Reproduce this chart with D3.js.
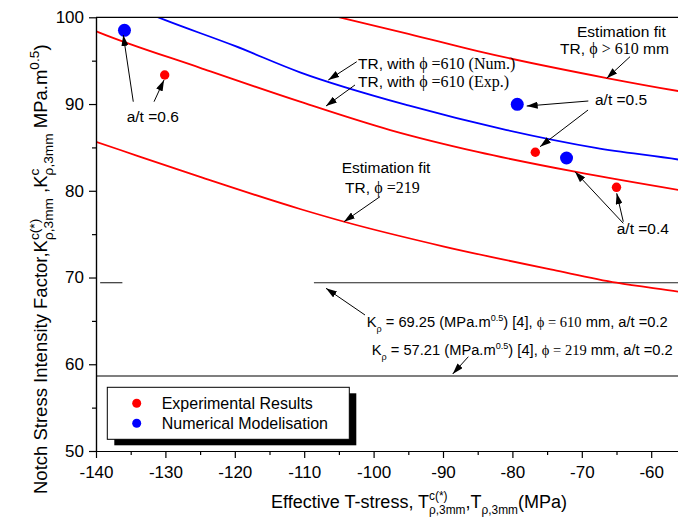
<!DOCTYPE html>
<html><head><meta charset="utf-8">
<script src="https://cdn.jsdelivr.net/npm/d3@7"></script>
<style>body{margin:0;background:#fff}svg{display:block}</style>
</head><body><svg id="c" width="678" height="521"></svg>
<script>
// ---------- data ----------
const xTickValues = [-140,-130,-120,-110,-100,-90,-80,-70,-60];
const xMinorTicks = [-135,-125,-115,-105,-95,-85,-75,-65,-55];
const yTickValues = [50,60,70,80,90,100];
const yMinorTicks = [55,65,75,85,95];

const expX = [-130.1, -76.7, -65.0];          // Experimental Results (red)
const expY = [93.35, 84.44, 80.4];
const numX = [-135.9, -79.3, -72.2];          // Numerical Modelisation (blue)
const numY = [98.5, 89.97, 83.78];

const fitBigX = [-107, -103.4, -95, -85, -66.4, -56.1, -50];   // TR, phi > 610 mm
const fitBigY = [100.4, 99.7, 98.1, 96.1, 93.0, 91.5, 90.7];
const numCurveX = [-132, -130.1, -120, -110.6, -95, -80.8, -68, -56.1, -50]; // TR phi=610 Num.
const numCurveY = [100.3, 99.7, 96.7, 93.66, 89.84, 87.0, 84.95, 83.6, 82.8];
const expCurveX = [-140, -139.6, -125, -110.6, -97.6, -85, -71.0, -56.1, -50]; // TR phi=610 Exp.
const expCurveY = [98.4, 98.27, 94.18, 90.27, 87.0, 84.48, 82.2, 80.1, 79.3];
const fit219X = [-140, -136.5, -125, -110.6, -104.1, -90, -74.1, -65.0, -56.1, -50]; // TR phi=219
const fit219Y = [85.65, 84.7, 81.6, 77.9, 76.4, 73.6, 70.87, 69.4, 68.37, 67.6];

const refLineY  = [69.4, 69.4, 58.64];
const refLineX0 = [-139.4, -108.6, -140];
const refLineX1 = [-136.2, -50, -50];

const legendLabels = ["Experimental Results", "Numerical Modelisation"];
const legendColors = ["#ff0000", "#0000ff"];

// ---------- setup ----------
const svg = d3.select("#c");
const SANS = "'Liberation Sans', Arial, Helvetica, sans-serif";
const SERIF = "'Liberation Serif', 'Times New Roman', serif";
const PHI = "\u03d5";
const x = d3.scaleLinear().domain([-140, -50]).range([96, 96 + 90 * 6.94]);
const y = d3.scaleLinear().domain([50, 100]).range([451, 17.3]);

svg.append("defs").append("clipPath").attr("id", "clip")
  .append("rect").attr("x", 96).attr("y", 17.3).attr("width", 700).attr("height", 451 - 17.3);
const marker = svg.select("defs").append("marker").attr("id", "arr")
  .attr("markerUnits", "userSpaceOnUse").attr("markerWidth", 11).attr("markerHeight", 7)
  .attr("refX", 11).attr("refY", 3.5).attr("orient", "auto");
marker.append("path").attr("d", "M0,0 L11,3.5 L0,7 Z").attr("fill", "#000");

// rich text helper
function rich(sel, parts, fs, ratio) {
  ratio = ratio || 0.62;
  let cur = 0, lastSupLen = 0;
  parts.forEach(p => {
    const k = p.k || "n";
    const size = k === "n" ? (p.fs || fs) : fs * ratio;
    const target = k === "sup" ? -fs * 0.42 : (k === "sub" ? fs * 0.34 : 0);
    const ts = sel.append("tspan").text(p.t)
      .attr("font-size", size)
      .attr("font-family", p.serif ? SERIF : SANS)
      .attr("dy", target - cur);
    if (k === "sub" && p.stack) ts.attr("dx", -lastSupLen);
    cur = target;
    if (k === "sup") lastSupLen = ts.node().getComputedTextLength();
  });
}

// ---------- plot ----------
const g = svg.append("g");
const clipG = g.append("g").attr("clip-path", "url(#clip)");

// reference lines
clipG.selectAll("line.ref").data(refLineY).join("line")
  .attr("x1", (d, i) => x(refLineX0[i])).attr("x2", (d, i) => x(refLineX1[i]))
  .attr("y1", d => y(d)).attr("y2", d => y(d))
  .attr("stroke", (d, i) => i === 2 ? "#555" : "#222").attr("stroke-width", (d, i) => i === 2 ? 1.5 : 1.1);

const line = d3.line().x(d => x(d[0])).y(d => y(d[1])).curve(d3.curveMonotoneX);
const curves = [
  [fitBigX, fitBigY, "#ff0000"],
  [numCurveX, numCurveY, "#0000ff"],
  [expCurveX, expCurveY, "#ff0000"],
  [fit219X, fit219Y, "#ff0000"]
];
curves.forEach(([xs, ys, c]) => {
  clipG.append("path").datum(xs.map((v, i) => [v, ys[i]]))
    .attr("d", line).attr("fill", "none").attr("stroke", c).attr("stroke-width", 1.8);
});

// points
clipG.selectAll("circle.exp").data(expX).join("circle")
  .attr("cx", d => x(d)).attr("cy", (d, i) => y(expY[i])).attr("r", 4.7).attr("fill", "#ff0000");
clipG.selectAll("circle.num").data(numX).join("circle")
  .attr("cx", d => x(d)).attr("cy", (d, i) => y(numY[i])).attr("r", 6.5).attr("fill", "#0000ff");

// axes
const fmt = d => String(d);
g.append("g").attr("transform", "translate(0,451)")
  .call(d3.axisBottom(x).tickValues(xTickValues).tickFormat(fmt).tickSize(7).tickSizeOuter(0).tickPadding(8));
g.append("g").attr("transform", "translate(0,451)")
  .call(d3.axisBottom(x).tickValues(xMinorTicks).tickFormat("").tickSize(4).tickSizeOuter(0));
g.append("g").attr("transform", "translate(96,0)")
  .call(d3.axisLeft(y).tickValues(yTickValues).tickFormat(fmt).tickSize(7).tickSizeOuter(0).tickPadding(5));
g.append("g").attr("transform", "translate(96,0)")
  .call(d3.axisLeft(y).tickValues(yMinorTicks).tickFormat("").tickSize(4).tickSizeOuter(0));
g.selectAll(".tick text").attr("font-family", SANS).attr("font-size", 17).attr("fill", "#000");
g.selectAll(".domain, .tick line").attr("stroke", "#000").attr("stroke-width", 1.2);
// top frame
g.append("line").attr("x1", x(-140)).attr("x2", x(-50)).attr("y1", y(100)).attr("y2", y(100))
  .attr("stroke", "#000").attr("stroke-width", 1.2);

// axis titles
const xt = svg.append("text").attr("x", 271).attr("y", 508).attr("fill", "#000");
rich(xt, [
  {t: "Effective T-stress, T"}, {t: "c(*)", k: "sup"}, {t: "\u03c1,3mm", k: "sub", stack: true},
  {t: ",T"}, {t: "\u03c1,3mm", k: "sub"}, {t: "(MPa)"}
], 18, 0.66);
const yt = svg.append("text").attr("transform", "translate(47,494) rotate(-90)").attr("fill", "#000");
rich(yt, [
  {t: "Notch Stress Intensity Factor,K"}, {t: "c(*)", k: "sup"}, {t: "\u03c1,3mm", k: "sub", stack: true},
  {t: " ,K"}, {t: "c", k: "sup"}, {t: "\u03c1,3mm", k: "sub", stack: true},
  {t: "  MPa.m"}, {t: "0.5", k: "sup"}, {t: ")"}
], 18.5, 0.74);

// annotations
const notes = [
  {x: -135.58, y: 87.96, parts: [{t: "a/t =0.6"}]},
  {x: -102.25, y: 94.04, parts: [{t: "TR, with "}, {t: PHI + " =610 (Num.)", serif: true, fs: 16}]},
  {x: -102.25, y: 92.0, parts: [{t: "TR, with "}, {t: PHI + " =610 (Exp.)", serif: true, fs: 16}]},
  {x: -70.69, y: 97.76, parts: [{t: "Estimation fit"}]},
  {x: -73.14, y: 95.73, parts: [{t: "TR, "}, {t: PHI + " > 610", serif: true, fs: 16}, {t: " mm"}]},
  {x: -68.1, y: 89.89, parts: [{t: "a/t =0.5"}]},
  {x: -104.6, y: 82.02, parts: [{t: "Estimation fit"}]},
  {x: -104.12, y: 79.71, parts: [{t: "TR, "}, {t: PHI + " =219", serif: true, fs: 16}]},
  {x: -64.97, y: 75.02, parts: [{t: "a/t =0.4"}]},
  {x: -101.0, y: 64.33, fs: 14.7, parts: [{t: "K"}, {t: "\u03c1", k: "sub"}, {t: " = 69.25 (MPa.m"}, {t: "0.5", k: "sup"},
      {t: ") [4], "}, {t: PHI + " = 610", serif: true, fs: 14.5}, {t: " mm, a/t =0.2"}]},
  {x: -100.27, y: 61.07, fs: 14.7, parts: [{t: "K"}, {t: "\u03c1", k: "sub"}, {t: " = 57.21 (MPa.m"}, {t: "0.5", k: "sup"},
      {t: ") [4], "}, {t: PHI + " = 219", serif: true, fs: 14.5}, {t: " mm, a/t =0.2"}]}
];
notes.forEach(n => {
  const t = svg.append("text").attr("x", x(n.x)).attr("y", y(n.y)).attr("fill", "#000");
  rich(t, n.parts, n.fs || 15.5);
});

const arrows = [
  [-134.63, 90.27, -136.07, 97.96],
  [-131.64, 90.27, -130.2, 92.77],
  [-102.43, 94.88, -106.53, 92.77],
  [-102.68, 92.2, -106.86, 89.77],
  [-63.05, 95.46, -66.41, 92.97],
  [-69.06, 90.35, -77.94, 89.77],
  [-69.1, 89.31, -76.02, 85.08],
  [-99.08, 79.32, -104.27, 76.44],
  [-64.02, 76.25, -70.98, 82.2],
  [-64.02, 76.44, -64.97, 79.71],
  [-101.24, 65.68, -106.86, 68.76],
  [-86.35, 60.87, -88.6, 58.88]
];
svg.selectAll("line.arrow").data(arrows).join("line").attr("class", "arrow")
  .attr("x1", d => x(d[0])).attr("y1", d => y(d[1])).attr("x2", d => x(d[2])).attr("y2", d => y(d[3]))
  .attr("stroke", "#000").attr("stroke-width", 1).attr("marker-end", "url(#arr)");

// legend
const lg = svg.append("g").attr("transform", "translate(107.3,387.3)");
lg.append("rect").attr("x", 7).attr("y", 6).attr("width", 242).attr("height", 52).attr("fill", "#000");
lg.append("rect").attr("x", 0).attr("y", 0).attr("width", 242).attr("height", 52)
  .attr("fill", "#fff").attr("stroke", "#000").attr("stroke-width", 1);
legendLabels.forEach((lab, i) => {
  lg.append("circle").attr("cx", 29.4).attr("cy", 16 + i * 20).attr("r", 4.5).attr("fill", legendColors[i]);
  lg.append("text").attr("x", 54.4).attr("y", 21.5 + i * 20).attr("font-family", SANS)
    .attr("font-size", 16).attr("fill", "#000").text(lab);
});
</script></body></html>
